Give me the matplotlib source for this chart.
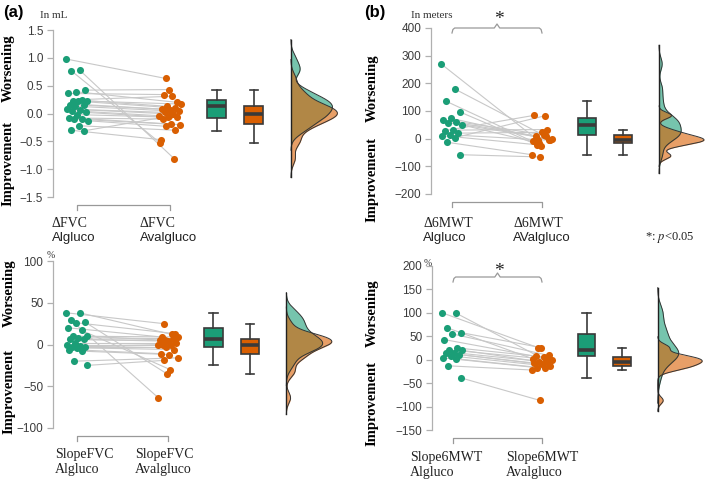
import numpy as np
import matplotlib.pyplot as plt
from matplotlib import transforms

plt.rcParams['mathtext.fontset'] = 'stix'

W, H = 709, 483
GREEN = '#1b9e77'
ORANGE = '#d95f02'
SANS = 'Liberation Sans'
SERIF = 'Liberation Serif'

# (a) top: change of FVC, mL (paired Algluco -> Avalgluco)
dfvc_alg = [0.98, 0.78, 0.77, 0.42, 0.39, 0.36, 0.25, 0.23, 0.23, 0.22, 0.16, 0.16, 0.13,
            0.08, 0.07, 0.05, 0.02, -0.02, -0.08, -0.09, -0.10, -0.13, -0.22, -0.30, -0.31]
dfvc_aval = [0.63, -0.81, -0.53, 0.43, 0.20, 0.34, 0.31, 0.17, 0.13, 0.10, 0.08, 0.07, 0.04,
             0.02, -0.01, -0.04, -0.07, -0.07, -0.10, -0.19, -0.20, -0.23, -0.30, -0.47, -0.05]

# (b) top: change of 6MWT, meters
d6mwt_alg = [270, 180, 135, 97, 73, 66, 62, 58, 50, 31, 29, 20, 14, 11, 4, -13, -58]
d6mwt_aval = [-5, 8, -10, -28, -4, 10, 14, -2, -16, 33, 84, 23, -6, -22, 83, -58, -66]

# (a) bottom: FVC slope, %
sfvc_alg = [38, 38, 29, 27, 26, 20, 17, 10, 10, 8, 6, 6, 2, 0, -2, -3, -3, -4, -6, -8, -20, -25]
sfvc_aval = [25, 12, -64, -35, 13, 9, -30, 9, 5, 7, 5, 4, 2, 0, 0, -1, -3, -6, -11, -12, -16, -19]

# (b) bottom: 6MWT slope, %
s6mwt_alg = [100, 100, 68, 58, 55, 43, 25, 21, 20, 15, 14, 11, 8, 4, 2, -13, -39]
s6mwt_aval = [26, -1, 2, 26, 9, 7, 6, 0, -4, -5, -7, -10, -14, -17, -18, -22, -87]

ticks_a = [1.5, 1.0, 0.5, 0.0, -0.5, -1.0, -1.5]
ticks_b = [400, 300, 200, 100, 0, -100, -200]
ticks_c = [100, 50, 0, -50, -100]
ticks_d = [200, 150, 100, 50, 0, -50, -100, -150]


def fmt(v, dec):
    s = f'{abs(v):.{dec}f}'
    return ('\u2212' + s) if v < 0 else s


def bandwidth(v):
    q75, q25 = np.percentile(v, [75, 25])
    return 0.9 * min(v.std(ddof=1), (q75 - q25) / 1.34) * len(v) ** -0.2


def kde(v, grid, bw):
    z = (grid[:, None] - v[None, :]) / bw
    return np.exp(-0.5 * z ** 2).sum(axis=1) / (len(v) * bw * np.sqrt(2 * np.pi))


fig = plt.figure(figsize=(W / 100, H / 100), dpi=100)


def ftext(x, y, s, **kw):
    fig.text(x / W, 1 - y / H, s, **kw)


def panel(frame, alg, aval, ticks, dec, star=None):
    spine, x1, x2, right, top, bot = frame
    unit = x2 - x1
    ax = fig.add_axes([spine / W, 1 - bot / H, (right - spine) / W, (bot - top) / H])
    ax.set_xlim(1 - (x1 - spine) / unit, 1 + (right - x1) / unit)
    ax.set_ylim(min(ticks), max(ticks))
    alg = np.asarray(alg, float)
    aval = np.asarray(aval, float)
    n = len(alg)
    xa = 1 + ((np.arange(n) * 0.618034) % 1 - 0.5) * 0.24
    xb = 2 + ((np.arange(n) * 0.381966 + 0.3) % 1 - 0.5) * 0.24
    for i in range(n):
        ax.plot([xa[i], xb[i]], [alg[i], aval[i]], color='#c8c8c8', lw=0.8, zorder=1)
    ax.scatter(xa, alg, s=26, color=GREEN, linewidths=0, zorder=3, clip_on=False)
    ax.scatter(xb, aval, s=26, color=ORANGE, linewidths=0, zorder=3, clip_on=False)

    bp = ax.boxplot([alg, aval], positions=[2.5, 2.9], widths=0.2, showfliers=False,
                    patch_artist=True, capwidths=0.09, manage_ticks=False,
                    boxprops=dict(edgecolor='#3a3a3a', lw=1.2),
                    whiskerprops=dict(color='#3a3a3a', lw=1.2),
                    capprops=dict(color='#3a3a3a', lw=1.2),
                    medianprops=dict(color='#3a3a3a', lw=2.6))
    for patch, c in zip(bp['boxes'], [GREEN, ORANGE]):
        patch.set_facecolor(c)

    # half densities
    curves = []
    for v in (alg, aval):
        bw = bandwidth(v)
        g = np.linspace(v.min() - 3 * bw, v.max() + 3 * bw, 400)
        curves.append((g, kde(v, g, bw)))
    scale = 0.5 / max(d.max() for _, d in curves)
    base = 3.3
    for (g, d), c in zip(curves, [GREEN, ORANGE]):
        ax.fill_betweenx(g, base, base + d * scale, color=c, alpha=0.6, lw=0, clip_on=False)
        ax.plot(base + d * scale, g, color='#333333', lw=0.7, clip_on=False)
    lo = min(g.min() for g, _ in curves)
    hi = max(g.max() for g, _ in curves)
    ax.plot([base, base], [lo, hi], color='#222222', lw=1.0, clip_on=False)

    for s in ('top', 'right', 'bottom'):
        ax.spines[s].set_visible(False)
    ax.spines['left'].set_color('#b0b0b0')
    ax.spines['left'].set_linewidth(0.9)
    ax.set_xticks([])
    ax.set_yticks(ticks)
    ax.set_yticklabels([fmt(t, dec) for t in ticks], family=SANS, fontsize=8.5, color='#3c3c3c')
    ax.tick_params(axis='y', color='#b0b0b0', length=4, width=0.9, pad=3)

    hgt = bot - top
    trans = transforms.blended_transform_factory(ax.transData, ax.transAxes)
    off, tk = 8 / hgt, 5 / hgt
    ax.plot([1, 1, 2, 2], [-off - tk, -off, -off, -off - tk], transform=trans,
            clip_on=False, color='#999999', lw=0.9)
    if star is not None:
        y0 = star
        e, nt = 5 / hgt, 4 / hgt
        ax.plot([1, 1.01, 1.03, 1.47, 1.5, 1.53, 1.97, 1.99, 2],
                [y0 - e, y0 - e * 0.3, y0, y0, y0 + nt, y0, y0, y0 - e * 0.3, y0 - e],
                transform=trans, clip_on=False, color='#999999', lw=0.9)
    return ax


panel((53, 77, 170, 345, 30, 197), dfvc_alg, dfvc_aval, ticks_a, 1)
panel((431, 452, 542, 709, 28, 194), d6mwt_alg, d6mwt_aval, ticks_b, 0, star=1.0)
panel((53, 77, 168, 345, 261, 428), sfvc_alg, sfvc_aval, ticks_c, 0)
panel((432, 453, 542, 709, 266, 430), s6mwt_alg, s6mwt_aval, ticks_d, 0, star=1 - 11 / 164)

# panel letters, units
ftext(13, 13, '(a)', family=SANS, fontweight='bold', fontsize=12, ha='center', va='center')
ftext(375, 13, '(b)', family=SANS, fontweight='bold', fontsize=12, ha='center', va='center')
ftext(54, 15, 'In mL', family=SERIF, fontsize=8, ha='center', va='center', color='#333333')
ftext(432, 15, 'In meters', family=SERIF, fontsize=8, ha='center', va='center', color='#333333')
ftext(51, 256, '%', family=SERIF, fontsize=7, ha='center', va='center', color='#333333')
ftext(428, 263, '%', family=SERIF, fontsize=7, ha='center', va='center', color='#333333')
ftext(499, 20, '*', family=SERIF, fontsize=14, ha='center', va='center', color='#222222')
ftext(499, 271, '*', family=SERIF, fontsize=14, ha='center', va='center', color='#222222')
ftext(670, 238, '*: $p$<0.05', family=SERIF, fontsize=9, ha='center', va='center', color='#222222')

# side labels
for x, yw, yi in [(8, 68, 163), (372, 88, 179), (9, 293, 392), (372, 313, 404)]:
    ftext(x, yw, 'Worsening', family=SERIF, fontweight='bold', fontsize=10.5, rotation=90,
          ha='center', va='center')
    ftext(x, yi, 'Improvement', family=SERIF, fontweight='bold', fontsize=10.5, rotation=90,
          ha='center', va='center')

# category labels
cat = [
    (52, 140, 217, 'ΔFVC', SANS, 'Algluco', 'Avalgluco'),
    (423, 513, 217, 'Δ6MWT', SANS, 'Algluco', 'AValgluco'),
    (55, 135, 448, 'SlopeFVC', SERIF, 'Algluco', 'Avalgluco'),
    (410, 506, 451, 'Slope6MWT', SERIF, 'Algluco', 'Avalgluco'),
]
for xg, xo, y, top_line, fam2, lab_g, lab_o in cat:
    for x, lab in [(xg, lab_g), (xo, lab_o)]:
        ftext(x, y, top_line, family=SERIF, fontsize=10, ha='left', va='top', color='#222222')
        ftext(x, y + 15, lab, family=fam2, fontsize=10 if fam2 == SERIF else 9.5,
              ha='left', va='top', color='#222222')

fig.savefig('out.png', dpi=100)
